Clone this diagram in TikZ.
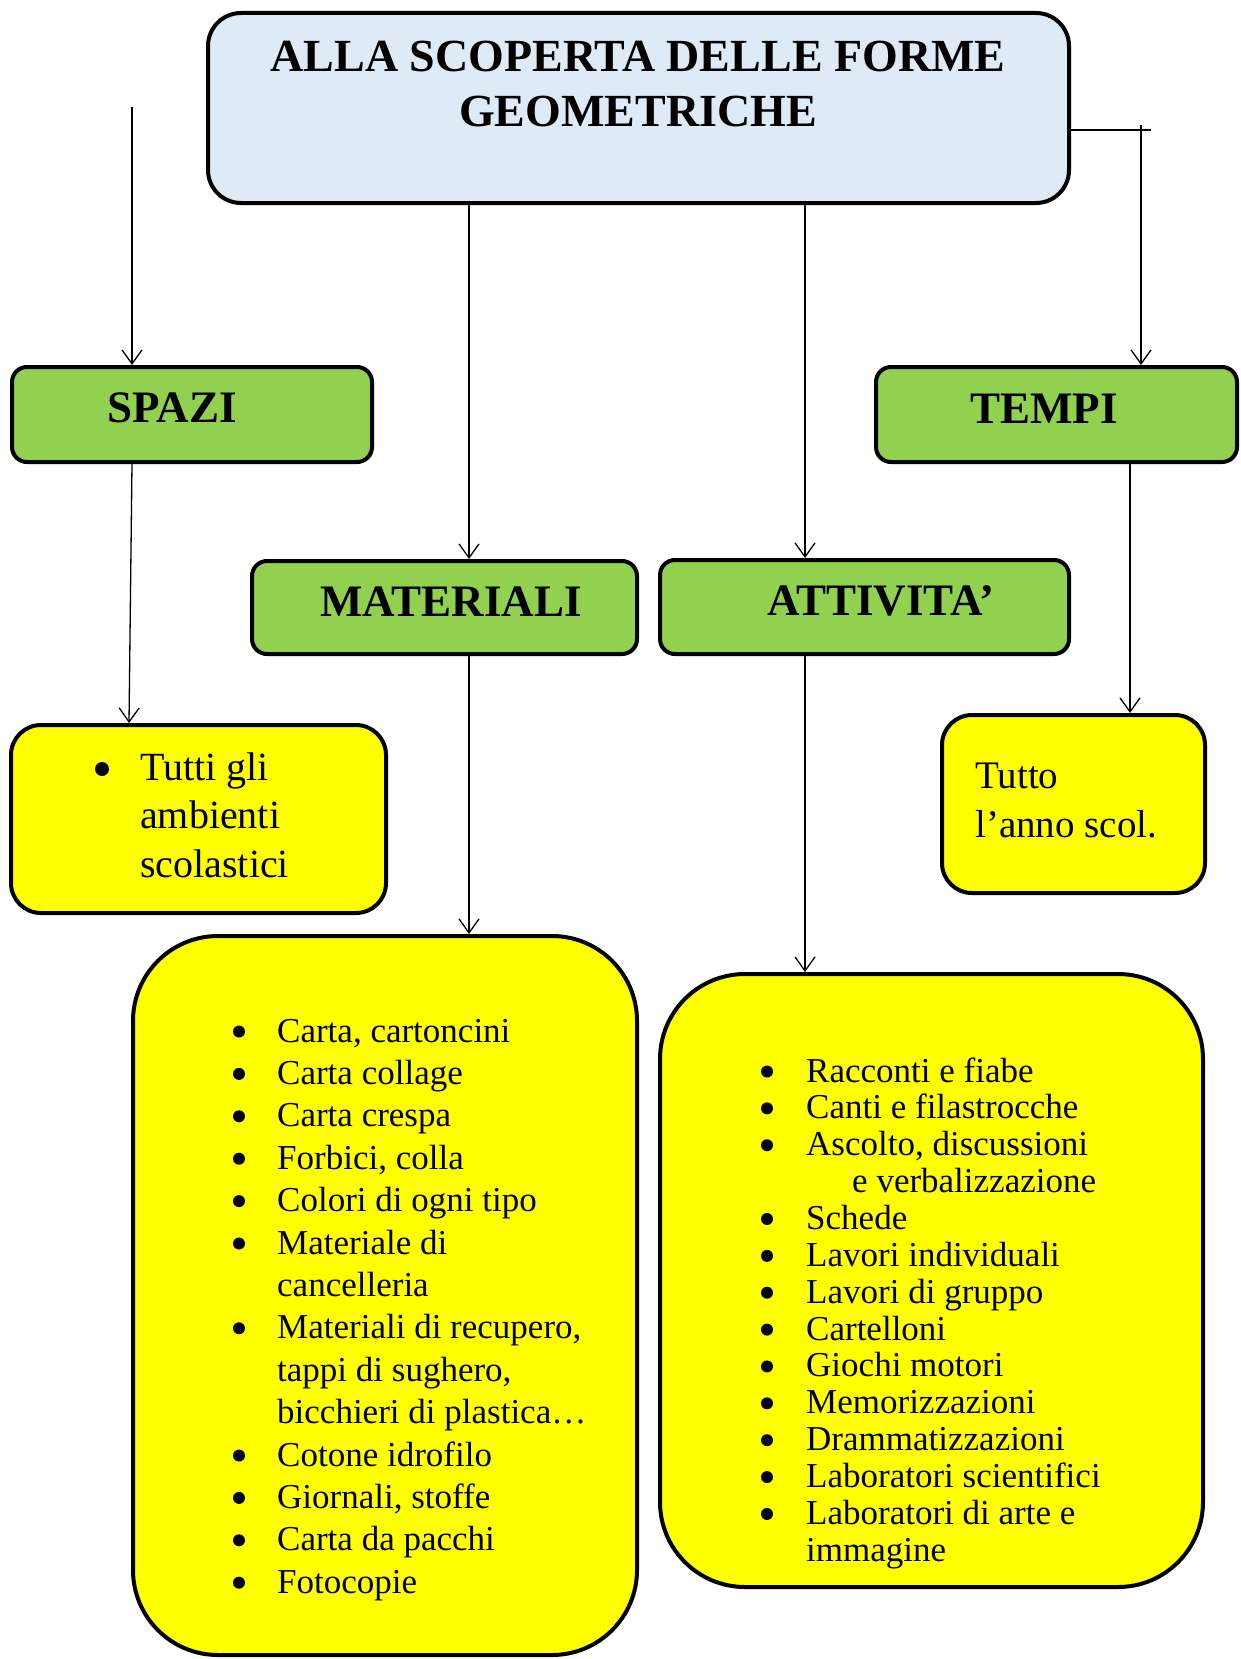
\documentclass[tikz,border=0pt]{standalone}
\usepackage{fontspec}
\setmainfont{Liberation Serif}
\usetikzlibrary{arrows.meta}
\definecolor{tblue}{HTML}{DEEAF6}
\definecolor{tgreen}{HTML}{92D050}
\definecolor{tyellow}{HTML}{FFFF00}
\tikzset{
  box/.style={draw=black, line width=4pt, rectangle, inner sep=0pt},
  titlebox/.style={box, fill=tblue, rounded corners=33pt},
  catbox/.style={box, fill=tgreen, rounded corners=15pt},
  smallbox/.style={box, fill=tyellow, rounded corners=30pt},
  bigbox/.style={box, fill=tyellow, rounded corners=85pt},
  arr/.style={line width=1.3pt, -{Straight Barb[length=14pt,width=20pt,line width=1.3pt]}},
  ttl/.style={font=\fontsize{46}{55}\selectfont\bfseries, inner sep=0pt, anchor=base},
  lab/.style={font=\fontsize{45}{54}\selectfont\bfseries, inner sep=0pt, anchor=base},
  itm/.style={font=\fontsize{35}{42}\selectfont, inner sep=0pt, anchor=base west},
  bigtxt/.style={font=\fontsize{39}{48}\selectfont, inner sep=0pt, anchor=base west},
  spztxt/.style={font=\fontsize{40}{48}\selectfont, inner sep=0pt, anchor=base west},
  bul/.style={circle, fill=black, inner sep=0pt, minimum size=12pt, yshift=10.5pt},
  bigbul/.style={circle, fill=black, inner sep=0pt, minimum size=14pt, yshift=11pt}
}
\begin{document}
\begin{tikzpicture}[x=1pt,y=-1pt]
\useasboundingbox (0,0) rectangle (1241,1659);
\fill[white] (0,0) rectangle (1241,1659);

% boxes
\node[titlebox, minimum width=861pt, minimum height=190pt] (title) at (638.5,108) {};
\node[catbox, minimum width=360pt, minimum height=95pt] (spazi) at (192,414.5) {};
\node[catbox, minimum width=361pt, minimum height=95pt] (tempi) at (1056.5,414.5) {};
\node[catbox, minimum width=385pt, minimum height=93pt] (materiali) at (444.5,607.5) {};
\node[catbox, minimum width=409pt, minimum height=94pt] (attivita) at (864.5,607) {};
\node[smallbox, minimum width=375pt, minimum height=188pt] (spaziY) at (198.5,819) {};
\node[smallbox, minimum width=263pt, minimum height=178pt] (tempiY) at (1073.5,804) {};
\node[bigbox, minimum width=504pt, minimum height=719pt] (materialiY) at (385,1295.5) {};
\node[bigbox, minimum width=543pt, minimum height=613pt] (attivitaY) at (931.5,1280.5) {};

% titles and labels
\node[ttl] (t1) at (638,72) {ALLA SCOPERTA DELLE FORME};
\node[ttl] (t2) at (638,127) {GEOMETRICHE};
\node[lab] (spaziT) at (172,422) {SPAZI};
\node[lab] (tempiT) at (1044,423) {TEMPI};
\node[lab] (materialiT) at (451,616) {MATERIALI};
\node[lab] (attivitaT) at (881,615) {ATTIVITA’};

% connectors
\coordinate (xa) at (132,0);
\coordinate (xb) at (129,0);
\coordinate (xm) at (469,0);
\coordinate (xt) at (805,0);
\coordinate (xr) at (1141,0);
\coordinate (xs) at (1130,0);
\coordinate (lstart) at (132,107);
\coordinate (rend) at (1151,130);
\coordinate (rstart) at (1141,125);
\coordinate (ry) at (0,130);
\draw[arr] (lstart) -- (spazi.north -| xa);
\draw[arr] (title.south -| xm) -- (materiali.north -| xm);
\draw[arr] (title.south -| xt) -- (attivita.north -| xt);
\draw[line width=2.5pt] (title.east |- ry) -- (rend);
\draw[arr] (rstart) -- (tempi.north -| xr);
\draw[arr] (spazi.south -| xa) -- (spaziY.north -| xb);
\draw[arr] (materiali.south -| xm) -- (materialiY.north -| xm);
\draw[arr] (attivita.south -| xt) -- (attivitaY.north -| xt);
\draw[arr] (tempi.south -| xs) -- (tempiY.north -| xs);

% spazi text
\node[bigbul] (sb0) at (102,780) {};
\node[spztxt] (s0) at (140,780) {Tutti gli};
\node[spztxt] (s1) at (140,828) {ambienti};
\node[spztxt] (s2) at (140,877) {scolastici};

% tempi text
\node[bigtxt] (p0) at (975,788) {Tutto};
\node[bigtxt] (p1) at (975,837) {l’anno scol.};

% materiali list
\node[bul] (mb0) at (239,1042) {};
\node[itm] (m0) at (277,1042) {Carta, cartoncini};
\node[bul] (mb1) at (239,1042+42.4) {};
\node[itm] (m1) at (277,1042+42.4) {Carta collage};
\node[bul] (mb2) at (239,1042+42.4*2) {};
\node[itm] (m2) at (277,1042+42.4*2) {Carta crespa};
\node[bul] (mb3) at (239,1042+42.4*3) {};
\node[itm] (m3) at (277,1042+42.4*3) {Forbici, colla};
\node[bul] (mb4) at (239,1042+42.4*4) {};
\node[itm] (m4) at (277,1042+42.4*4) {Colori di ogni tipo};
\node[bul] (mb5) at (239,1042+42.4*5) {};
\node[itm] (m5) at (277,1042+42.4*5) {Materiale di};
\node[itm] (m6) at (277,1042+42.4*6) {cancelleria};
\node[bul] (mb7) at (239,1042+42.4*7) {};
\node[itm] (m7) at (277,1042+42.4*7) {Materiali di recupero,};
\node[itm] (m8) at (277,1042+42.4*8) {tappi di sughero,};
\node[itm] (m9) at (277,1042+42.4*9) {bicchieri di plastica…};
\node[bul] (mb10) at (239,1042+42.4*10) {};
\node[itm] (m10) at (277,1042+42.4*10) {Cotone idrofilo};
\node[bul] (mb11) at (239,1042+42.4*11) {};
\node[itm] (m11) at (277,1042+42.4*11) {Giornali, stoffe};
\node[bul] (mb12) at (239,1042+42.4*12) {};
\node[itm] (m12) at (277,1042+42.4*12) {Carta da pacchi};
\node[bul] (mb13) at (239,1042+42.4*13) {};
\node[itm] (m13) at (277,1042+42.4*13) {Fotocopie};

% attivita list
\node[bul] (ab0) at (767,1082) {};
\node[itm] (a0) at (806,1082) {Racconti e fiabe};
\node[bul] (ab1) at (767,1082+36.87) {};
\node[itm] (a1) at (806,1082+36.87) {Canti e filastrocche};
\node[bul] (ab2) at (767,1082+36.87*2) {};
\node[itm] (a2) at (806,1082+36.87*2) {Ascolto, discussioni};
\node[itm] (a3) at (852,1082+36.87*3) {e verbalizzazione};
\node[bul] (ab4) at (767,1082+36.87*4) {};
\node[itm] (a4) at (806,1082+36.87*4) {Schede};
\node[bul] (ab5) at (767,1082+36.87*5) {};
\node[itm] (a5) at (806,1082+36.87*5) {Lavori individuali};
\node[bul] (ab6) at (767,1082+36.87*6) {};
\node[itm] (a6) at (806,1082+36.87*6) {Lavori di gruppo};
\node[bul] (ab7) at (767,1082+36.87*7) {};
\node[itm] (a7) at (806,1082+36.87*7) {Cartelloni};
\node[bul] (ab8) at (767,1082+36.87*8) {};
\node[itm] (a8) at (806,1082+36.87*8) {Giochi motori};
\node[bul] (ab9) at (767,1082+36.87*9) {};
\node[itm] (a9) at (806,1082+36.87*9) {Memorizzazioni};
\node[bul] (ab10) at (767,1082+36.87*10) {};
\node[itm] (a10) at (806,1082+36.87*10) {Drammatizzazioni};
\node[bul] (ab11) at (767,1082+36.87*11) {};
\node[itm] (a11) at (806,1082+36.87*11) {Laboratori scientifici};
\node[bul] (ab12) at (767,1082+36.87*12) {};
\node[itm] (a12) at (806,1082+36.87*12) {Laboratori di arte e};
\node[itm] (a13) at (806,1082+36.87*13) {immagine};
\end{tikzpicture}
\end{document}
